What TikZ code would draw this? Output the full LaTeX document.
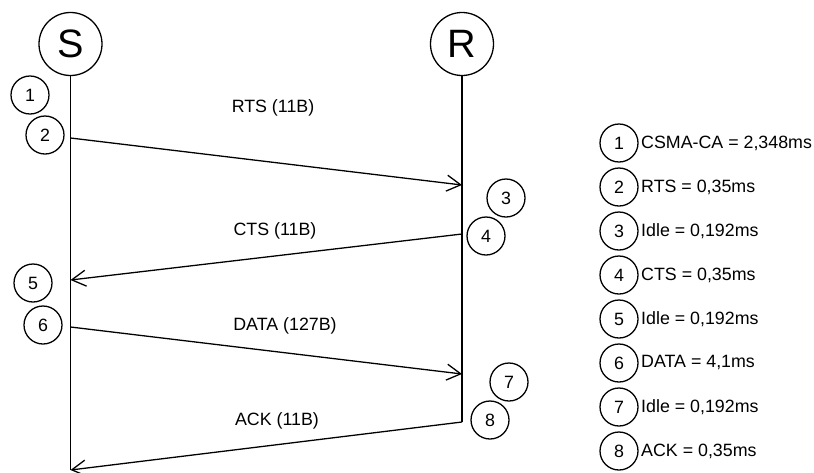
\documentclass[tikz,border=0pt]{standalone}
\usepackage{fontspec}
\setmainfont{Liberation Sans}
\usetikzlibrary{arrows.meta}

\tikzset{
  station/.style={draw,circle,line width=1.1pt,minimum size=1.89cm,inner sep=0pt,
    font=\fontsize{33.8}{36}\selectfont},
  phase/.style={draw,circle,line width=1.1pt,minimum size=1.14cm,inner sep=0pt,
    font=\fontsize{15.2}{18}\selectfont},
  msglabel/.style={inner sep=0pt,font=\fontsize{15.2}{18}\selectfont},
  legtext/.style={anchor=west,inner sep=0pt,font=\fontsize{15.2}{18}\selectfont},
  msg/.style={line width=1.1pt,-{Straight Barb[length=4.2mm,width=4.8mm,line width=1.1pt]}}
}

\begin{document}
\begin{tikzpicture}[x=0.03cm,y=-0.03cm]
    \useasboundingbox (0,0) rectangle (814,472);
    \pgfmathsetmacro{\sx}{70.5}
    \pgfmathsetmacro{\rx}{462}

    \node (S) [station] at (\sx,44) {S};
    \node (R) [station] at (\rx,44) {R};

    \coordinate (Send) at (\sx,470);
    \coordinate (Rend) at (\rx,422);
    \coordinate (Srts) at (\sx,138);
    \coordinate (Rrts) at (\rx,185);
    \coordinate (Rcts) at (\rx,234);
    \coordinate (Scts) at (\sx,280);
    \coordinate (Sdata) at (\sx,327);
    \coordinate (Rdata) at (\rx,374);

    \draw [line width=1.1pt] (S.south) -- (Send);
    \draw [line width=1.1pt] (R.south) -- (Rend);

    \node (p1) [phase] at (30,95) {1};
    \node (p2) [phase] at (45,135) {2};
    \node (p3) [phase] at (506,198) {3};
    \node (p4) [phase] at (486,236) {4};
    \node (p5) [phase] at (33,283) {5};
    \node (p6) [phase] at (43,325) {6};
    \node (p7) [phase] at (509,382) {7};
    \node (p8) [phase] at (490,420) {8};

    \draw [msg] (Srts) -- (Rrts);
    \draw [msg] (Rcts) -- (Scts);
    \draw [msg] (Sdata) -- (Rdata);
    \draw [msg] (Rend) -- (Send);

    \node (lrts) [msglabel] at (273,108) {RTS (11B)};
    \node (lcts) [msglabel] at (275,231) {CTS (11B)};
    \node (ldata) [msglabel] at (285,326) {DATA (127B)};
    \node (lack) [msglabel] at (277,421) {ACK (11B)};

    \foreach \n/\txt in {1/{CSMA-CA = 2,348ms}, 2/{RTS = 0,35ms}, 3/{Idle = 0,192ms},
        4/{CTS = 0,35ms}, 5/{Idle = 0,192ms}, 6/{DATA = 4,1ms}, 7/{Idle = 0,192ms},
        8/{ACK = 0,35ms}} {
      \node (leg\n) [phase] at (619,99+44*\n) {\n};
      \node (legtxt\n) [legtext] at (641,99+44*\n) {\txt};
    }
  \end{tikzpicture}
\end{document}
